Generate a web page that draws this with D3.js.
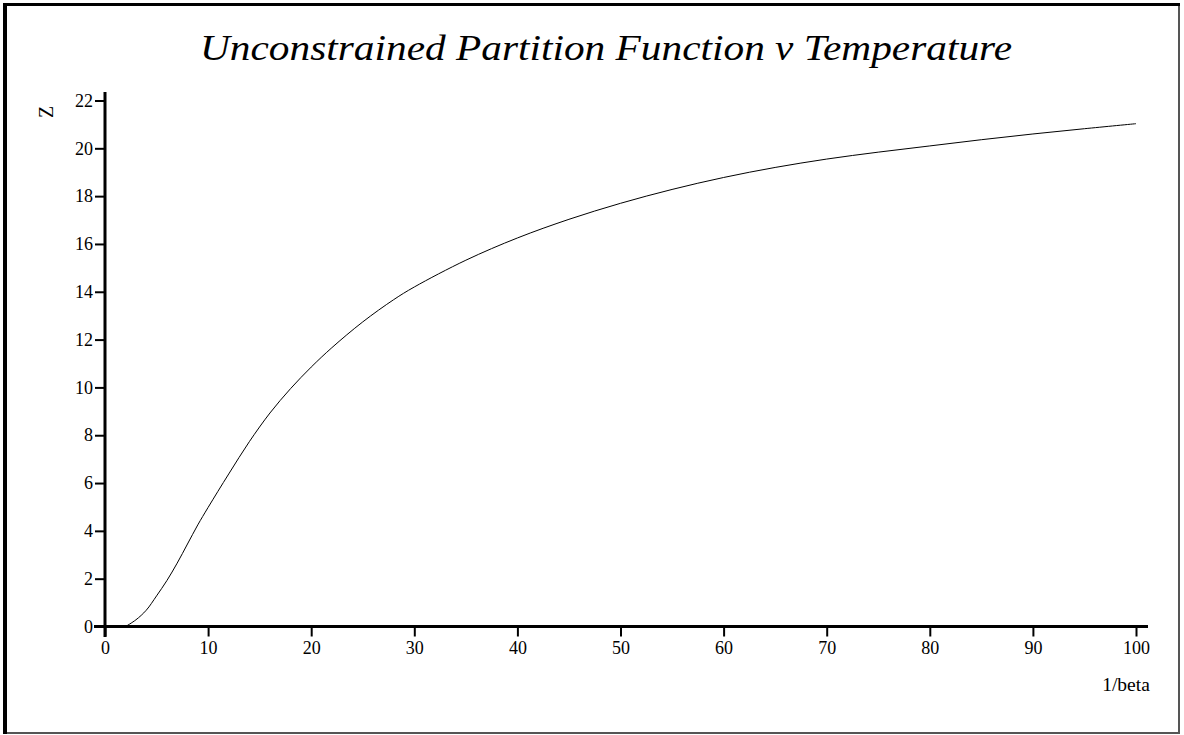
<!DOCTYPE html>
<html><head><meta charset="utf-8">
<script src="https://cdn.jsdelivr.net/npm/d3@7"></script>
<style>body{margin:0;background:#fff}svg{display:block}</style>
</head><body>
<svg id="c" width="1184" height="735"></svg>
<script>
const temperature = [2,3,4,5,6,7,8,9,10,12,14,16,18,20,22,25,28,30,35,40,45,50,55,60,65,70,75,80,85,90,95,100];
const partitionZ  = [0,0.28,0.68,1.28,1.92,2.65,3.45,4.25,4.98,6.38,7.73,8.93,9.95,10.85,11.66,12.74,13.67,14.2,15.32,16.25,17.03,17.7,18.28,18.78,19.2,19.55,19.84,20.1,20.36,20.6,20.82,21.03];
const xTicks = [0,10,20,30,40,50,60,70,80,90,100];
const yTicks = [0,2,4,6,8,10,12,14,16,18,20,22];
const titleText = "Unconstrained Partition Function v Temperature";
const xLabel = "1/beta", yLabel = "Z";

const svg = d3.select("#c");
const font = "'Liberation Serif','Times New Roman',serif";
// frame
svg.append("line").attr("x1",1179).attr("y1",4).attr("x2",1179).attr("y2",733).attr("stroke","#555").attr("stroke-width",2);
svg.append("line").attr("x1",4).attr("y1",733).attr("x2",1180).attr("y2",733).attr("stroke","#555").attr("stroke-width",2);
svg.append("line").attr("x1",5).attr("y1",3).attr("x2",5).attr("y2",734).attr("stroke","#000").attr("stroke-width",4);
svg.append("line").attr("x1",3).attr("y1",4.5).attr("x2",1180).attr("y2",4.5).attr("stroke","#000").attr("stroke-width",3);

const x = d3.scaleLinear().domain([0,100]).range([105,1136]);
const y = d3.scaleLinear().domain([0,22]).range([626.5,100.5]);

// title
svg.append("text").attr("x",200).attr("y",60).attr("font-family",font).attr("font-style","italic")
  .attr("font-size",35).attr("textLength",812).attr("lengthAdjust","spacingAndGlyphs").text(titleText);

// axes lines
svg.append("line").attr("x1",105).attr("x2",105).attr("y1",92).attr("y2",637).attr("stroke","#000").attr("stroke-width",3);
svg.append("line").attr("x1",94).attr("x2",1148).attr("y1",626.5).attr("y2",626.5).attr("stroke","#000").attr("stroke-width",3);

const xAxis = d3.axisBottom(x).tickValues(xTicks).tickSize(10).tickPadding(5);
const gx = svg.append("g").attr("transform","translate(0,626.5)").call(xAxis);
gx.select(".domain").remove();
gx.selectAll(".tick line").attr("stroke","#000").attr("stroke-width",2);
gx.selectAll(".tick text").attr("font-family",font).attr("font-size",18).attr("fill","#000");

const yAxis = d3.axisLeft(y).tickValues(yTicks).tickSize(10).tickPadding(2);
const gy = svg.append("g").attr("transform","translate(105,0)").call(yAxis);
gy.select(".domain").remove();
gy.selectAll(".tick line").attr("stroke","#000").attr("stroke-width",2);
gy.selectAll(".tick text").attr("font-family",font).attr("font-size",18).attr("fill","#000");

// labels
svg.append("text").attr("transform","translate(53,112) rotate(-90)").attr("text-anchor","middle")
  .attr("font-family",font).attr("font-size",20).text(yLabel);
svg.append("text").attr("x",1126).attr("y",691).attr("text-anchor","middle")
  .attr("font-family",font).attr("font-size",19.5).text(xLabel);

// curve
const data = temperature.map((t,i)=>({t, z: partitionZ[i]}));
svg.append("path").datum(data).attr("fill","none").attr("stroke","#000").attr("stroke-width",1)
  .attr("d", d3.line().x(d=>x(d.t)).y(d=>y(d.z)).curve(d3.curveCatmullRom.alpha(0.5)));
</script>
</body></html>
